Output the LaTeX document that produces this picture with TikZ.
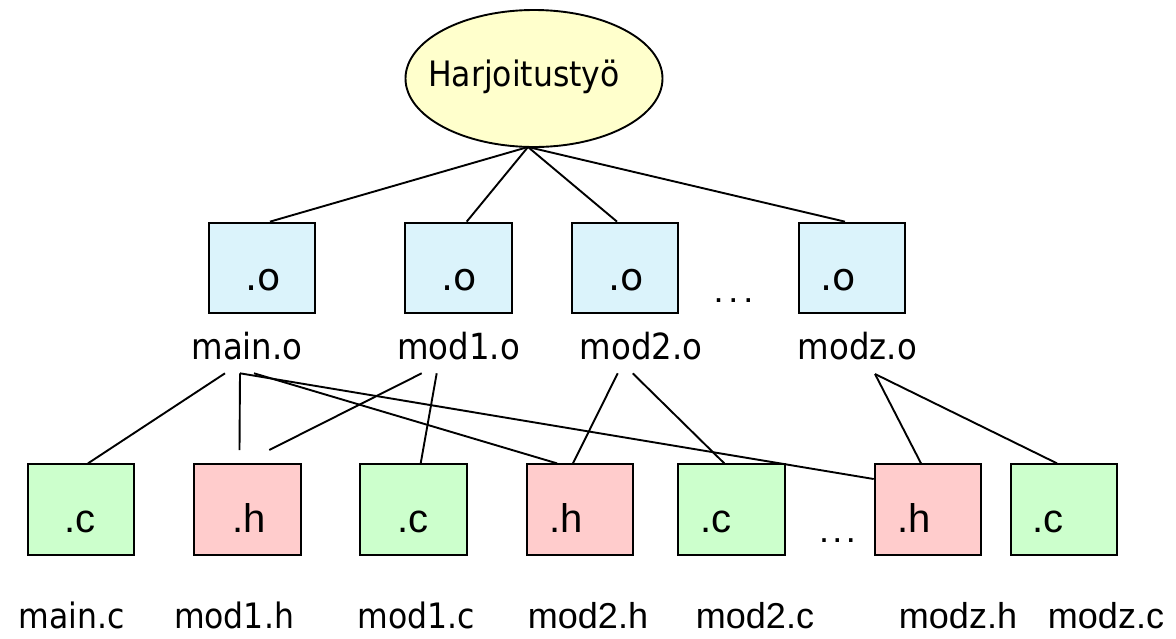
\documentclass[tikz,border=0pt]{standalone}
\usepackage{fontspec}
\usetikzlibrary{shapes.geometric}
\setmainfont{Liberation Sans}
\newfontfamily\tah[FakeStretch=0.9]{DejaVu Sans}
\newfontfamily\dvs{DejaVu Sans}
\definecolor{ofill}{RGB}{219,243,251}
\definecolor{cfill}{RGB}{204,255,204}
\definecolor{hfill}{RGB}{255,204,204}
\definecolor{efill}{RGB}{255,255,204}
\tikzset{
  filebox/.style={draw=black, line width=2pt, minimum width=106.6pt, minimum height=90.7pt, inner sep=0pt},
  obox/.style={filebox, fill=ofill},
  cbox/.style={filebox, fill=cfill},
  hbox/.style={filebox, fill=hfill},
  txt/.style={anchor=base, inner sep=0pt},
  otxt/.style={txt, font=\dvs\fontsize{38}{40}\selectfont},
  chtxt/.style={txt, font=\fontsize{40}{44}\selectfont},
  lbl/.style={txt, font=\tah\fontsize{36}{40}\selectfont},
  lblb/.style={txt, font=\tah\fontsize{35}{40}\selectfont},
  lbla/.style={txt, font=\fontsize{36}{40}\selectfont},
  dots/.style={txt, font=\fontsize{36}{40}\selectfont},
  conn/.style={draw=black, line width=1.9pt},
}
\begin{document}
\begin{tikzpicture}[x=1pt, y=-1pt]
\useasboundingbox (0,0) rectangle (1176,638);
% top ellipse
\node[draw=black, line width=1.9pt, fill=efill, ellipse, minimum width=257pt, minimum height=137pt, inner sep=0pt] (top) at (534,78.5) {};
\node[txt, font=\tah\fontsize{35}{40}\selectfont] (toptxt) at (524,86.7) {Harjoitustyö};
\coordinate (hub) at (528,147);
% object boxes
\node[obox] (o1) at (262,268) {};
\node[obox] (o2) at (458.7,268) {};
\node[obox] (o3) at (625,268) {};
\node[obox] (o4) at (852,268) {};
\node[otxt] (o1t) at (263.5,290) {.o};
\node[otxt] (o2t) at (459,290) {.o};
\node[otxt] (o3t) at (626.5,290) {.o};
\node[otxt] (o4t) at (838,290) {.o};
\node[dots] (odots) at (733.5,302) {.\kern5pt.\kern5pt.};
% object labels
\node[lbl] (lo1) at (247,359) {main.o};
\node[lbl] (lo2) at (458.5,359) {mod1.o};
\node[lbl] (lo3) at (641,359) {mod2.o};
\node[lbl] (lo4) at (857.5,359) {modz.o};
% source boxes
\node[cbox] (c1) at (81,509.7) {};
\node[hbox] (h1) at (247.5,509.7) {};
\node[cbox] (c2) at (413.7,509.7) {};
\node[hbox] (h2) at (580,509.7) {};
\node[cbox] (c3) at (731.3,509.7) {};
\node[hbox] (h3) at (928,509.7) {};
\node[cbox] (c4) at (1064,509.7) {};
\node[chtxt] (c1t) at (80,532) {.c};
\node[chtxt] (h1t) at (249,532) {.h};
\node[chtxt] (c2t) at (413,532) {.c};
\node[chtxt] (h2t) at (566,532) {.h};
\node[chtxt] (c3t) at (716,532) {.c};
\node[chtxt] (h3t) at (914,532) {.h};
\node[chtxt] (c4t) at (1048,532) {.c};
\node[dots] (cdots) at (837.5,542) {.\kern3.3pt.\kern3.3pt.};
% source labels
\node[lblb] (lc1) at (71.5,628) {main.c};
\node[lblb] (lh1) at (234,628) {mod1.h};
\node[lblb] (lc2) at (416,628) {mod1.c};
\node[lbla] (lh2) at (588,628) {mod2.h};
\node[lbla] (lc3) at (755,628) {mod2.c};
\node[lbla] (lh3) at (958,628) {modz.h};
\node[lbla] (lc4) at (1106,628) {modz.c};
% connector end points under the labels
\coordinate (mA) at (225,373.3);
\coordinate (mB) at (240,373.3);
\coordinate (mC) at (254,373.3);
\coordinate (aA) at (421.7,373.3);
\coordinate (aB) at (436.7,373.3);
\coordinate (bA) at (617.7,373.3);
\coordinate (bB) at (632.7,373.3);
\coordinate (zA) at (875,374);
\coordinate (h1a) at (239.5,450);
\coordinate (h1b) at (269.3,450);
% top connectors
\draw[conn] (hub) -- ([xshift=8pt]o1.north);
\draw[conn] (hub) -- ([xshift=8pt]o2.north);
\draw[conn] (hub) -- ([xshift=-8pt]o3.north);
\draw[conn] (hub) -- ([xshift=-7pt]o4.north);
% lower connectors
\draw[conn] (mA) -- ([xshift=7pt]c1.north);
\draw[conn] (mB) -- (h1a);
\draw[conn] (mB) -- ([yshift=30.7pt]h3.west);
\draw[conn] (mC) -- ([xshift=-23pt]h2.north);
\draw[conn] (aA) -- (h1b);
\draw[conn] (aB) -- ([xshift=7pt]c2.north);
\draw[conn] (bA) -- ([xshift=-7pt]h2.north);
\draw[conn] (bB) -- ([xshift=-7pt]c3.north);
\draw[conn] (zA) -- ([xshift=-7pt]h3.north);
\draw[conn] (zA) -- ([xshift=-7pt]c4.north);
\end{tikzpicture}
\end{document}
